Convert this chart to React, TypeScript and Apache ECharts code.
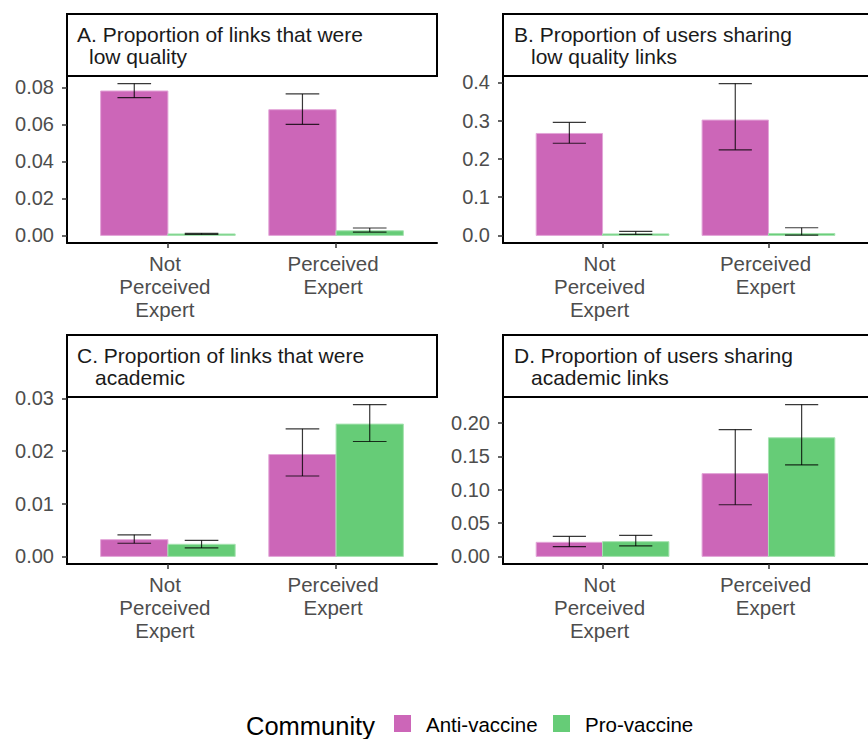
import React, { useEffect, useRef } from "react";
import * as echarts from "echarts";

const FONT = '"Liberation Sans", Arial, Helvetica, sans-serif';

const categories = ["Not\nPerceived\nExpert", "Perceived\nExpert"];
const groups = ["Anti-vaccine", "Pro-vaccine"];
const groupColors = ["#CC66B8", "#66CC77"];
const groupEdges = ["#E3A6D8", "#A6E3B0"];

// Panel A: proportion of links that were low quality
const antiA = [0.078, 0.0679];
const antiALo = [0.0744, 0.06];
const antiAHi = [0.082, 0.0764];
const proA = [0.0008, 0.0025];
const proALo = [0.0005, 0.0018];
const proAHi = [0.0011, 0.004];
const ticksA = [0, 0.02, 0.04, 0.06, 0.08];

// Panel B: proportion of users sharing low quality links
const antiB = [0.2666, 0.3016];
const antiBLo = [0.241, 0.2237];
const antiBHi = [0.2955, 0.397];
const proB = [0.004, 0.005];
const proBLo = [0.0026, 0.001];
const proBHi = [0.0105, 0.02];
const ticksB = [0, 0.1, 0.2, 0.3, 0.4];

// Panel C: proportion of links that were academic
const antiC = [0.00318, 0.01933];
const antiCLo = [0.0025, 0.01525];
const antiCHi = [0.0041, 0.0242];
const proC = [0.0023, 0.0251];
const proCLo = [0.0016, 0.0218];
const proCHi = [0.00305, 0.0288];
const ticksC = [0, 0.01, 0.02, 0.03];

// Panel D: proportion of users sharing academic links
const antiD = [0.0211, 0.124];
const antiDLo = [0.0146, 0.0774];
const antiDHi = [0.03, 0.19];
const proD = [0.0221, 0.1777];
const proDLo = [0.0157, 0.137];
const proDHi = [0.0316, 0.2274];
const ticksD = [0, 0.05, 0.1, 0.15, 0.2];

const titles = [
  ["A. Proportion of links that were", "low quality"],
  ["B. Proportion of users sharing", "low quality links"],
  ["C. Proportion of links that were", "academic"],
  ["D. Proportion of users sharing", "academic links"],
];

const panels = [
  { anti: [antiA, antiALo, antiAHi], pro: [proA, proALo, proAHi], ticks: ticksA, dec: 2 },
  { anti: [antiB, antiBLo, antiBHi], pro: [proB, proBLo, proBHi], ticks: ticksB, dec: 1 },
  { anti: [antiC, antiCLo, antiCHi], pro: [proC, proCLo, proCHi], ticks: ticksC, dec: 2 },
  { anti: [antiD, antiDLo, antiDHi], pro: [proD, proDLo, proDHi], ticks: ticksD, dec: 2 },
];

const boxes = [
  { left: 67, top: 76, width: 370, height: 167, stripTop: 14, t1x: 77, t2x: 89 },
  { left: 503, top: 76, width: 371, height: 167, stripTop: 14, t1x: 514, t2x: 531 },
  { left: 67, top: 397, width: 370, height: 167, stripTop: 335, t1x: 77, t2x: 95 },
  { left: 503, top: 397, width: 371, height: 167, stripTop: 335, t1x: 514, t2x: 531 },
];

function makeRender(offset: number, color: string, edge: string) {
  return (params: any, api: any) => {
    const x = api.value(0);
    const v = api.value(1);
    const lo = api.value(2);
    const hi = api.value(3);
    const c = x + offset;
    const p0 = api.coord([c - 0.2, v]);
    const p1 = api.coord([c + 0.2, 0]);
    const top = api.coord([c, hi]);
    const bot = api.coord([c, lo]);
    const capL = api.coord([c - 0.1, hi])[0];
    const capR = api.coord([c + 0.1, hi])[0];
    const es = { stroke: "rgba(0,0,0,0.78)", lineWidth: 1.2 };
    return {
      type: "group",
      children: [
        {
          type: "rect",
          shape: { x: p0[0], y: p0[1], width: p1[0] - p0[0], height: p1[1] - p0[1] },
          style: { fill: color, stroke: edge, lineWidth: 1 },
        },
        { type: "line", shape: { x1: top[0], y1: top[1], x2: bot[0], y2: bot[1] }, style: es },
        { type: "line", shape: { x1: capL, y1: top[1], x2: capR, y2: top[1] }, style: es },
        { type: "line", shape: { x1: capL, y1: bot[1], x2: capR, y2: bot[1] }, style: es },
      ],
    };
  };
}

export default function App() {
  const ref = useRef<HTMLDivElement>(null);
  useEffect(() => {
    document.body.style.margin = "0";
    const chart = echarts.init(ref.current!, null, { renderer: "svg" });

    const grid: any[] = [];
    const xAxis: any[] = [];
    const yAxis: any[] = [];
    const series: any[] = [];
    const graphic: any[] = [];

    panels.forEach((p, i) => {
      const b = boxes[i];
      grid.push({ left: b.left, top: b.top, width: b.width, height: b.height, containLabel: false });
      const maxHi = Math.max(...p.anti[2], ...p.pro[2]);
      xAxis.push({
        type: "value",
        gridIndex: i,
        min: 0.4,
        max: 2.6,
        splitLine: { show: false },
        axisLine: { show: true, onZero: false, lineStyle: { color: "#000", width: 2 } },
        axisTick: { show: true, length: 5, lineStyle: { color: "#333", width: 1.5 }, customValues: [1, 2] },
        axisLabel: {
          customValues: [1, 2],
          formatter: (v: number) => categories[Math.round(v) - 1],
          color: "#4D4D4D",
          fontSize: 20.5,
          lineHeight: 23,
          margin: 9,
          fontFamily: FONT,
          padding: [0, 6, 0, 0],
        },
      });
      yAxis.push({
        type: "value",
        gridIndex: i,
        min: -0.05 * maxHi,
        max: 1.05 * maxHi,
        splitLine: { show: false },
        axisLine: { show: true, onZero: false, lineStyle: { color: "#000", width: 2 } },
        axisTick: { show: true, length: 5, lineStyle: { color: "#333", width: 1.5 }, customValues: p.ticks },
        axisLabel: {
          customValues: p.ticks,
          formatter: (v: number) => v.toFixed(p.dec),
          color: "#4D4D4D",
          fontSize: 20,
          margin: 13,
          fontFamily: FONT,
        },
      });
      [p.anti, p.pro].forEach((g, gi) => {
        series.push({
          type: "custom",
          name: groups[gi],
          xAxisIndex: i,
          yAxisIndex: i,
          clip: false,
          encode: { x: 0, y: 1 },
          data: g[0].map((v, k) => [k + 1, v, g[1][k], g[2][k]]),
          renderItem: makeRender(gi === 0 ? -0.2 : 0.2, groupColors[gi], groupEdges[gi]),
        });
      });
      graphic.push({
        type: "rect",
        shape: { x: b.left, y: b.stripTop, width: b.width, height: b.top - b.stripTop },
        style: { fill: "#fff", stroke: "#000", lineWidth: 2 },
        z: 10,
      });
      graphic.push({
        type: "text",
        x: b.t1x,
        y: b.stripTop + 20.5,
        style: { text: titles[i][0], fill: "#1A1A1A", fontSize: 21, fontFamily: FONT, verticalAlign: "middle" },
        z: 11,
      });
      graphic.push({
        type: "text",
        x: b.t2x,
        y: b.stripTop + 42.5,
        style: { text: titles[i][1], fill: "#1A1A1A", fontSize: 21, fontFamily: FONT, verticalAlign: "middle" },
        z: 11,
      });
    });

    // legend
    graphic.push({
      type: "text",
      x: 246,
      y: 725.5,
      style: { text: "Community", fill: "#000", fontSize: 25.5, fontFamily: FONT, verticalAlign: "middle" },
    });
    const legendX = [394, 553];
    groups.forEach((g, gi) => {
      graphic.push({
        type: "rect",
        shape: { x: legendX[gi], y: 715, width: 17, height: 17 },
        style: { fill: groupColors[gi] },
      });
      graphic.push({
        type: "text",
        x: legendX[gi] + 32,
        y: 724,
        style: { text: g, fill: "#000", fontSize: 20.5, fontFamily: FONT, verticalAlign: "middle" },
      });
    });

    chart.setOption({
      animation: false,
      backgroundColor: "#fff",
      grid,
      xAxis,
      yAxis,
      series,
      graphic,
    });
    return () => chart.dispose();
  }, []);
  return (
    <div
      ref={ref}
      style={{ position: "fixed", left: 0, top: 0, width: 868, height: 739 }}
    />
  );
}
